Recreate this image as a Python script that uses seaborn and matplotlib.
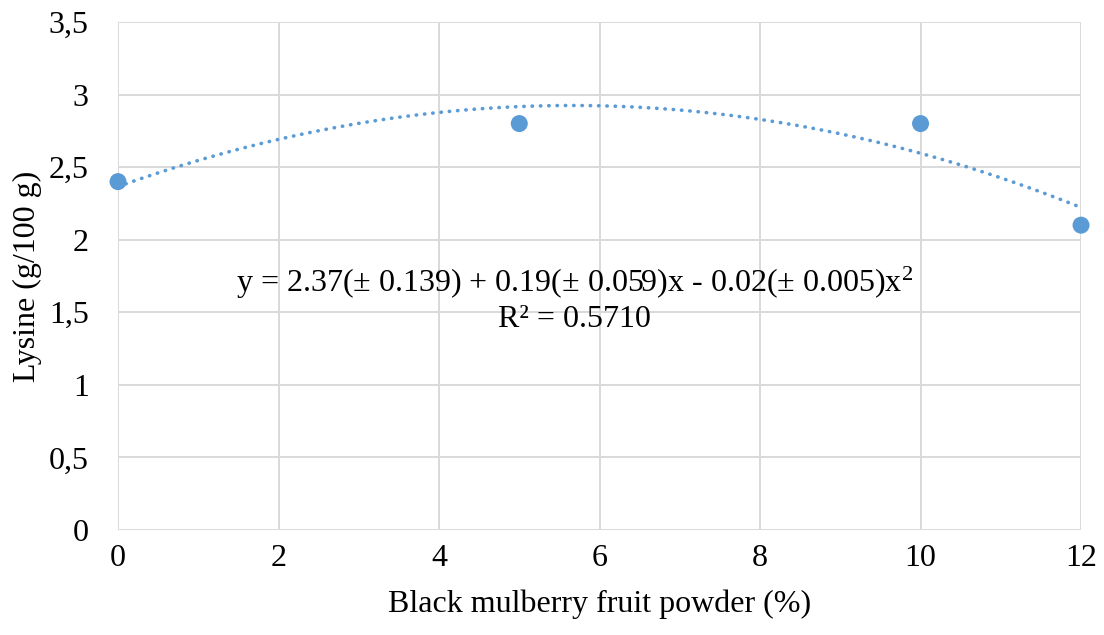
import matplotlib
matplotlib.use("Agg")
import matplotlib.pyplot as plt
from matplotlib.ticker import FuncFormatter
import seaborn as sns
import pandas as pd

powder = [0, 5, 10, 12]
lysine = [2.4, 2.8, 2.8, 2.1]
x_ticks = [0, 2, 4, 6, 8, 10, 12]
y_ticks = [0, 0.5, 1, 1.5, 2, 2.5, 3, 3.5]
equation = "y = 2.37(± 0.139) + 0.19(± 0.059)x - 0.02(± 0.005)x$^2$"
r2_text = "R² = 0.5710"

df = pd.DataFrame({"powder": powder, "lysine": lysine})

sns.set_theme(style="white")
plt.rcParams["font.family"] = ["Liberation Serif", "DejaVu Serif"]
plt.rcParams["mathtext.fontset"] = "custom"
plt.rcParams["mathtext.rm"] = "Liberation Serif"
plt.rcParams["mathtext.it"] = "Liberation Serif"
plt.rcParams["text.color"] = "black"
plt.rcParams["axes.labelcolor"] = "black"

fig = plt.figure(figsize=(11.04, 6.35), dpi=100)
ax = fig.add_axes([0.1069, 0.1654, 0.8723, 0.8000])

fs = 23
color = "#5b9bd5"
sns.regplot(data=df, x="powder", y="lysine", order=2, ci=None, scatter=False,
            ax=ax, line_kws=dict(color=color, lw=2.6, linestyle=(0, (0.1, 2.2)),
                                 dash_capstyle="round", solid_capstyle="round"))
sns.scatterplot(data=df, x="powder", y="lysine", ax=ax, color=color, s=150,
                edgecolor="none", zorder=5, clip_on=False)

ax.set_xlim(0, 12)
ax.set_ylim(0, 3.5)
ax.set_xticks(x_ticks)
ax.set_yticks(y_ticks)
ax.yaxis.set_major_formatter(FuncFormatter(lambda v, p: (f"{v:g}").replace(".", ",")))
ax.grid(True, color="#d9d9d9", lw=1.4)
ax.set_axisbelow(True)
for s in ax.spines.values():
    s.set_visible(False)
ax.tick_params(axis="both", length=0, labelsize=fs, colors="black")
ax.tick_params(axis="y", pad=21)
ax.tick_params(axis="x", pad=10)
ax.set_xlabel("Black mulberry fruit powder (%)", fontsize=fs, labelpad=12)
ax.set_ylabel("Lysine (g/100 g)", fontsize=fs, labelpad=5)

ax.text(5.69, 1.70, equation, ha="center", va="center", fontsize=fs)
ax.text(5.69, 1.45, r2_text, ha="center", va="center", fontsize=fs)

fig.savefig("out.png", dpi=100)
